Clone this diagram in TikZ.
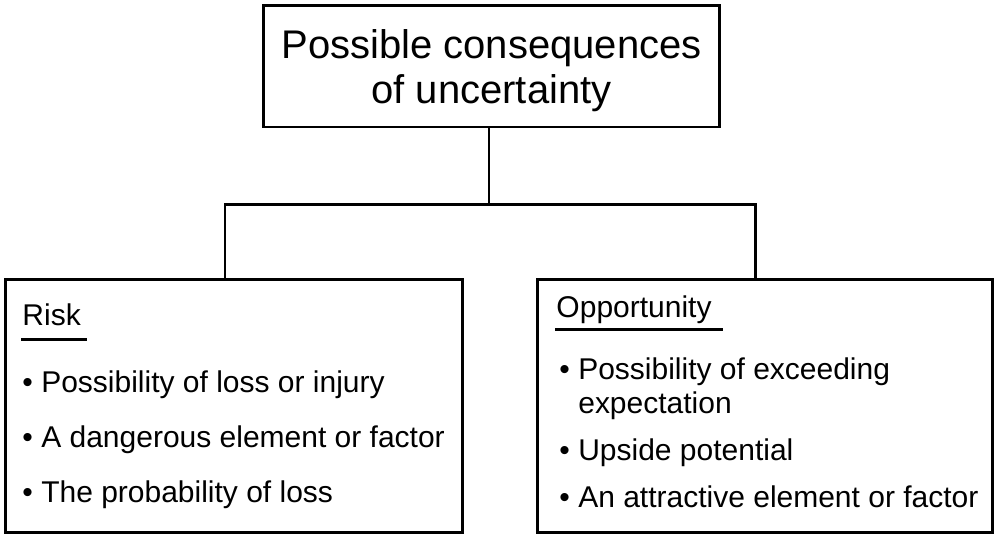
\documentclass[tikz,border=0pt]{standalone}
\usepackage{fontspec}
\setmainfont{Liberation Sans}
\usetikzlibrary{positioning}

\tikzset{
  box/.style={draw, rectangle, inner sep=0pt},
  head/.style={anchor=base west, inner sep=0pt, font=\fontsize{17.07}{18.8}\selectfont},
  item/.style={anchor=base west, inner sep=0pt, align=left, font=\fontsize{17.07}{18.8}\selectfont}
}

\begin{document}
\begin{tikzpicture}[x=0.02cm, y=-0.02cm, line width=1.7pt]
  \useasboundingbox (0,0) rectangle (995,535);
  % boxes
  \node[box, minimum width=9.14cm, minimum height=2.44cm] (top) at (491.5,66) {};
  \node[align=center, inner sep=0pt, font=\fontsize{22.76}{25.6}\selectfont]
    (toptitle) at ([yshift=-0.1cm]top.center) {Possible consequences\\of uncertainty};
  \node[box, minimum width=9.16cm, minimum height=5.08cm] (risk) at (234,406) {};
  \node[box, minimum width=9.12cm, minimum height=5.08cm] (opp) at (765,406) {};
  % connectors
  \coordinate (split) at (489,204);
  \draw (top.south -| split) -- (split);
  \draw ([xshift=-0.18cm]risk.north) |- (split) -| ([xshift=-0.2cm]opp.north);
  % risk
  \node[head] (riskhead) at (21,325) {Risk};
  \draw (riskhead.base west) ++(0,14) -- ++(66,0);
  \foreach \txt [count=\i] in {Possibility of loss or injury, A dangerous element or factor, The probability of loss}
    \node[item] (riskitem\i) at (21,337+55*\i) {• \txt};
  % opportunity
  \node[head] (opphead) at (555,317) {Opportunity};
  \draw (opphead.base west) ++(0,12) -- ++(168,0);
  \node[item] (oppitem1) at (558,413) {• Possibility of exceeding\\\phantom{• }expectation};
  \node[item] (oppitem2) at (558,460) {• Upside potential};
  \node[item] (oppitem3) at (558,507) {• An attractive element or factor};
\end{tikzpicture}
\end{document}
